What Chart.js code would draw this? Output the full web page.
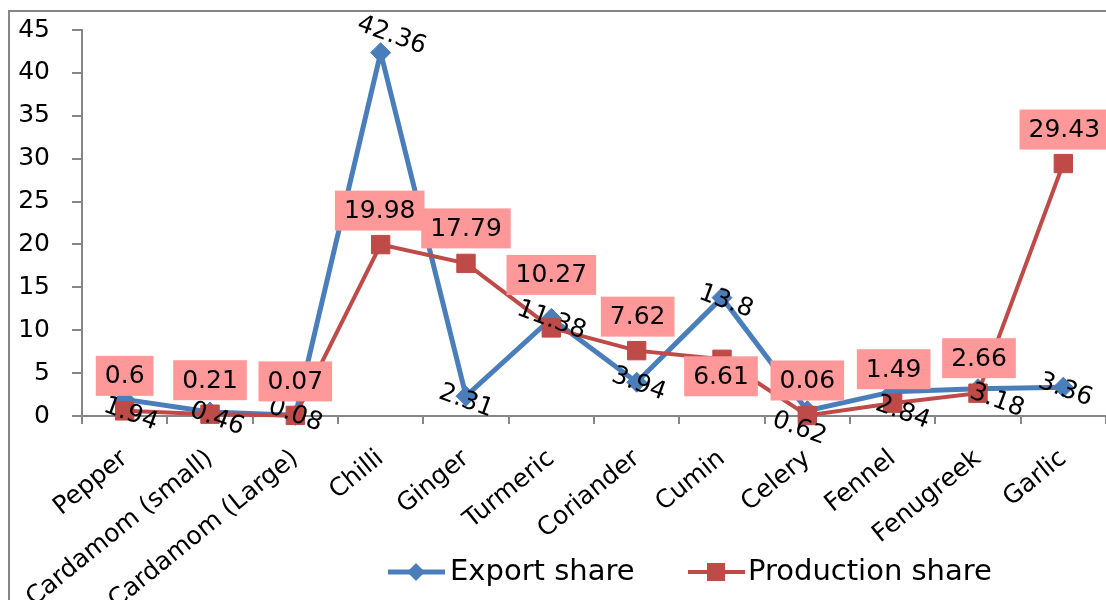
<!DOCTYPE html>
<html lang="en">
<head>
<meta charset="UTF-8">
<meta name="viewport" content="width=device-width, initial-scale=1.0">
<title>Spices - export and production share</title>
<script src="https://cdn.jsdelivr.net/npm/chart.js"></script>
<style>
    html, body { margin: 0; padding: 0; background: #fff; }
    canvas { display: block; }
</style>
</head>
<body>
<canvas id="spiceChart" width="1106" height="600"></canvas>

<script>
    // data
    const spices = ['Pepper', 'Cardamom (small)', 'Cardamom (Large)', 'Chilli', 'Ginger', 'Turmeric',
                    'Coriander', 'Cumin', 'Celery', 'Fennel', 'Fenugreek', 'Garlic'];
    const exportShare = [1.94, 0.46, 0.08, 42.36, 2.31, 11.38, 3.94, 13.8, 0.62, 2.84, 3.18, 3.36];
    const productionShare = [0.6, 0.21, 0.07, 19.98, 17.79, 10.27, 7.62, 6.61, 0.06, 1.49, 2.66, 29.43];
    const yTicks = [0, 5, 10, 15, 20, 25, 30, 35, 40, 45];

    // where each value label sits relative to its point (px)
    const exportNudge = [[6, 15], [7, 7], [0, 0], [11, -17], [0, 5], [0, 2], [2, 2], [4, 4], [-8, 18], [10, 21], [19, 12], [2, 3]];
    const productionNudge = [[0, -35], [0, -34], [0, -34], [-1, -34], [0, -35], [0, -53], [1, -34], [-1, 17], [0, -35], [1, -34], [1, -35], [1, -34]];

    const BLUE = '#4A7EBB';
    const RED = '#BE4B48';
    const AXIS = '#868686';
    const FONT = 'DejaVu Sans';

    const frame = {
        id: 'frame',
        beforeDraw(chart) {
            const ctx = chart.ctx;
            ctx.save();
            ctx.strokeStyle = AXIS;
            ctx.lineWidth = 2;
            ctx.strokeRect(9, 11, 1300, 800);
            ctx.restore();
        }
    };

    const valueLabels = {
        id: 'valueLabels',
        afterDatasetsDraw(chart) {
            const ctx = chart.ctx;
            ctx.save();
            ctx.font = `25px "${FONT}"`;
            ctx.textAlign = 'center';
            ctx.textBaseline = 'middle';
            ctx.fillStyle = '#000';

            // export share: tilted text
            chart.getDatasetMeta(0).data.forEach((pt, i) => {
                const [dx, dy] = exportNudge[i];
                ctx.save();
                ctx.translate(pt.x + dx, pt.y + dy);
                ctx.rotate(20 * Math.PI / 180);
                ctx.fillText(String(exportShare[i]), 0, 0);
                ctx.restore();
            });

            // production share: pink boxes
            chart.getDatasetMeta(1).data.forEach((pt, i) => {
                const [dx, dy] = productionNudge[i];
                const txt = String(productionShare[i]);
                const w = ctx.measureText(txt).width + 18;
                const h = 40;
                const cx = pt.x + dx, cy = pt.y + dy;
                ctx.fillStyle = '#FF9999';
                ctx.fillRect(cx - w / 2, cy - h / 2, w, h);
                ctx.fillStyle = '#000';
                ctx.fillText(txt, cx, cy + 1);
            });
            ctx.restore();
        }
    };

    const bottomLegend = {
        id: 'bottomLegend',
        afterDraw(chart) {
            const ctx = chart.ctx;
            const y = 572;
            ctx.save();
            ctx.font = `29px "${FONT}"`;
            ctx.textBaseline = 'middle';
            ctx.fillStyle = '#000';

            // export share entry
            ctx.strokeStyle = BLUE;
            ctx.lineWidth = 5;
            ctx.beginPath();
            ctx.moveTo(388, y);
            ctx.lineTo(445, y);
            ctx.stroke();
            ctx.fillStyle = BLUE;
            ctx.beginPath();
            ctx.moveTo(416, y - 9);
            ctx.lineTo(425, y);
            ctx.lineTo(416, y + 9);
            ctx.lineTo(407, y);
            ctx.closePath();
            ctx.fill();
            ctx.fillStyle = '#000';
            ctx.fillText('Export share', 450, y);

            // production share entry
            ctx.strokeStyle = RED;
            ctx.lineWidth = 4;
            ctx.beginPath();
            ctx.moveTo(688, y);
            ctx.lineTo(745, y);
            ctx.stroke();
            ctx.fillStyle = RED;
            ctx.fillRect(707, y - 9, 18, 18);
            ctx.fillStyle = '#000';
            ctx.fillText('Production share', 748, y);
            ctx.restore();
        }
    };

    new Chart(document.getElementById('spiceChart'), {
        type: 'line',
        data: {
            labels: spices,
            datasets: [
                {
                    label: 'Export share',
                    data: exportShare,
                    borderColor: BLUE,
                    backgroundColor: BLUE,
                    borderWidth: 5,
                    pointStyle: 'rectRot',
                    pointRadius: 10,
                    pointBorderWidth: 1,
                    tension: 0,
                    clip: false,
                    order: 1
                },
                {
                    label: 'Production share',
                    data: productionShare,
                    borderColor: RED,
                    backgroundColor: RED,
                    borderWidth: 4,
                    pointStyle: 'rect',
                    pointRadius: 13,
                    pointBorderWidth: 1,
                    tension: 0,
                    clip: false,
                    order: 0
                }
            ]
        },
        options: {
            responsive: false,
            animation: false,
            layout: { autoPadding: false, padding: { top: 30, right: -3, bottom: 0, left: 0 } },
            plugins: {
                legend: { display: false },
                tooltip: { enabled: false }
            },
            scales: {
                x: {
                    offset: true,
                    grid: { offset: true, drawOnChartArea: false, tickLength: 8, color: AXIS, lineWidth: 2 },
                    border: { color: AXIS, width: 2 },
                    ticks: {
                        autoSkip: false,
                        minRotation: 39,
                        maxRotation: 39,
                        padding: 20,
                        color: '#000',
                        font: { family: FONT, size: 25 }
                    },
                    afterFit: (s) => {
                        s.height = 184;
                        s.paddingLeft = 0;
                        s.paddingRight = 0;
                    }
                },
                y: {
                    min: 0,
                    max: 45,
                    afterBuildTicks: (axis) => { axis.ticks = yTicks.map(v => ({ value: v })); },
                    grid: { drawOnChartArea: false, tickLength: 10, color: AXIS, lineWidth: 2 },
                    border: { color: AXIS, width: 2 },
                    ticks: {
                        padding: 22,
                        color: '#000',
                        font: { family: FONT, size: 25 }
                    },
                    afterFit: (s) => {
                        s.width = 82;
                        s.paddingTop = 0;
                        s.paddingBottom = 0;
                    }
                }
            }
        },
        plugins: [frame, valueLabels, bottomLegend]
    });
</script>
</body>
</html>
